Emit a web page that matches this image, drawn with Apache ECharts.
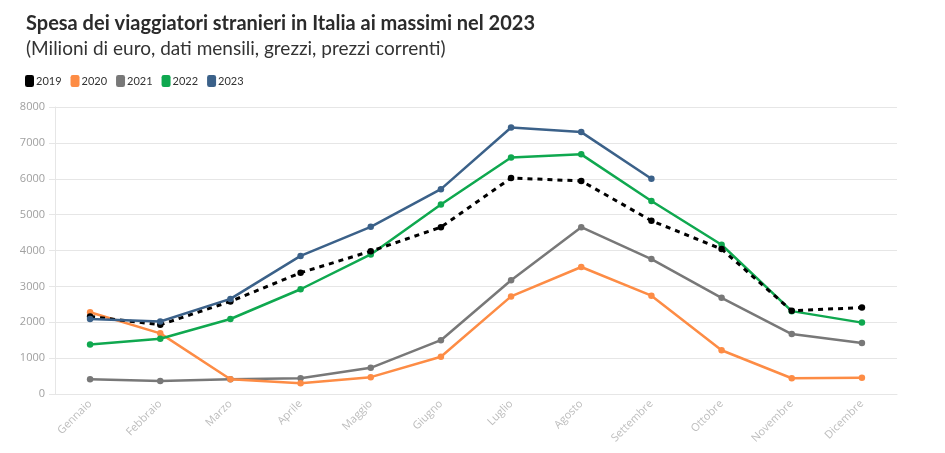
<!DOCTYPE html>
<html><head><meta charset="utf-8">
<script src="https://cdn.jsdelivr.net/npm/echarts@6/dist/echarts.min.js"></script>
<style>html,body{margin:0;padding:0;background:#fff}#c{width:945px;height:453px}</style>
</head><body><div id="c"></div>
<script>
const months = ['Gennaio','Febbraio','Marzo','Aprile','Maggio','Giugno','Luglio','Agosto','Settembre','Ottobre','Novembre','Dicembre'];
const s2019 = [2160,1930,2580,3380,3980,4650,6020,5940,4830,4040,2320,2410];
const s2020 = [2280,1690,410,300,470,1040,2720,3540,2740,1220,440,450];
const s2021 = [410,360,410,440,730,1500,3170,4650,3760,2680,1670,1420];
const s2022 = [1380,1540,2090,2920,3890,5280,6590,6680,5380,4160,2310,1990];
const s2023 = [2090,2020,2650,3850,4660,5710,7430,7300,6000,null,null,null];
const yTicks = {min:0,max:8000,interval:1000};
const font = 'Lato, "Source Sans Pro", "Noto Sans", sans-serif';

const chart = echarts.init(document.getElementById('c'));
function mk(name, data, color, dashed, z){
  return {name, type:'line', data, color, z,
    symbol:'circle', symbolSize:6.5, connectNulls:false,
    lineStyle:{width:dashed?3:2.5, color, type: dashed?[5,5]:'solid'},
    itemStyle:{color}, emphasis:{disabled:true}};
}
chart.setOption({
  animation:false,
  textStyle:{fontFamily:font},
  title:{left:21, top:9, text:'Spesa dei viaggiatori stranieri in Italia ai massimi nel 2023',
    subtext:'(Milioni di euro, dati mensili, grezzi, prezzi correnti)', itemGap:5,
    textStyle:{fontFamily:font, fontSize:20, fontWeight:'bold', color:'#2b2b2b'},
    subtextStyle:{fontFamily:font, fontSize:19, color:'#333'}},
  legend:{left:20, top:70, icon:'roundRect', itemWidth:9, itemHeight:12, itemGap:9,
    textStyle:{fontFamily:font, fontSize:11, color:'#333', padding:[0,0,0,-3]},
    data:['2019','2020','2021','2022','2023']},
  grid:{left:55, right:48, top:107, bottom:59, containLabel:false},
  xAxis:{type:'category', data:months, boundaryGap:true,
    axisLine:{lineStyle:{color:'#e6e6e6', width:1}},
    axisTick:{alignWithLabel:true, length:5, lineStyle:{color:'#e6e6e6'}},
    axisLabel:{rotate:45, color:'#bdbdbd', fontSize:11, fontFamily:'"Open Sans", sans-serif', margin:8, interval:0}},
  yAxis:{type:'value', min:yTicks.min, max:yTicks.max, interval:yTicks.interval,
    axisLine:{show:true, lineStyle:{color:'#e6e6e6'}},
    axisTick:{show:true, length:6, lineStyle:{color:'#e6e6e6'}},
    splitLine:{lineStyle:{color:'#e6e6e6', width:1}},
    axisLabel:{color:'#a0a0a0', fontSize:11, fontFamily:'"Open Sans", sans-serif', margin:10,
      formatter:function(v){return String(v);}}},
  series:[
    mk('2021', s2021, '#787878', false, 2),
    mk('2020', s2020, '#fd8c45', false, 3),
    mk('2022', s2022, '#0fa84f', false, 4),
    mk('2019', s2019, '#000000', true, 5),
    mk('2023', s2023, '#3b6189', false, 6)
  ]
});
</script></body></html>
